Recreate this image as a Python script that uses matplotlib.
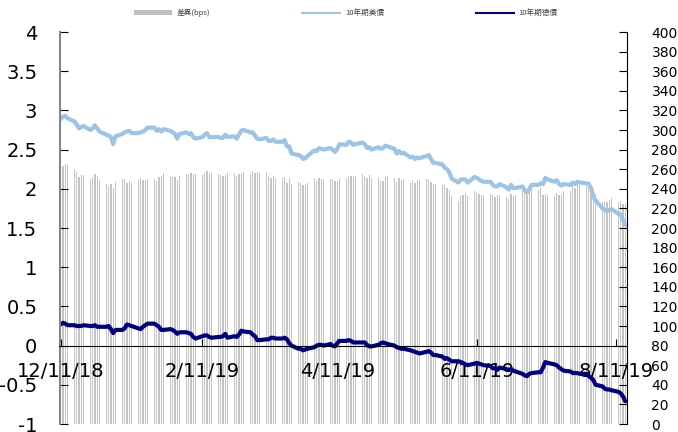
import numpy as np
import pandas as pd
import matplotlib
matplotlib.use('Agg')
import matplotlib.pyplot as plt
from matplotlib import font_manager
from matplotlib.patches import Patch
from matplotlib.lines import Line2D

# daily data (business days) from 12/11/18
start_date = '2018-12-11'

us10y = [
    2.89, 2.92, 2.93, 2.90, 2.86, 2.82, 2.77, 2.79, 2.80, 2.75, 2.77, 2.81, 2.77, 2.73, 2.69,
    2.68, 2.66, 2.57, 2.67, 2.70, 2.72, 2.73, 2.74, 2.71, 2.71, 2.72, 2.73, 2.75, 2.78, 2.78,
    2.74, 2.76, 2.73, 2.76, 2.74, 2.72, 2.70, 2.64,
    2.70, 2.72, 2.70, 2.71, 2.66, 2.64, 2.66, 2.69, 2.71, 2.66, 2.66, 2.66, 2.65, 2.65, 2.69,
    2.66, 2.67, 2.64, 2.69, 2.74,
    2.75, 2.72, 2.72, 2.68, 2.64, 2.63, 2.65, 2.61, 2.61, 2.63, 2.60, 2.60, 2.62, 2.54, 2.54,
    2.45, 2.43, 2.42, 2.38, 2.39, 2.42,
    2.49, 2.48, 2.52, 2.51, 2.50, 2.52, 2.50, 2.47, 2.51, 2.57, 2.56, 2.60, 2.59, 2.56, 2.57,
    2.59, 2.57, 2.52, 2.53, 2.50, 2.53, 2.51,
    2.52, 2.55, 2.54, 2.51, 2.45, 2.48, 2.45, 2.46, 2.40, 2.41, 2.38, 2.40, 2.39, 2.42, 2.43,
    2.38, 2.33, 2.33, 2.31, 2.27, 2.25, 2.21, 2.13,
    2.08, 2.12, 2.12, 2.12, 2.08, 2.15, 2.14, 2.12, 2.10, 2.09, 2.09, 2.05, 2.03, 2.03, 2.06,
    2.02, 1.99, 2.05, 2.01, 2.01,
    2.03, 1.98, 1.95, 2.00, 2.05, 2.05, 2.07, 2.06, 2.14, 2.12, 2.09, 2.11, 2.06, 2.04, 2.06,
    2.05, 2.08, 2.06, 2.09, 2.08, 2.07, 2.06, 2.01,
    1.90, 1.85, 1.75, 1.73, 1.71, 1.73, 1.74, 1.68, 1.67, 1.60, 1.54,
]

de10y = [
    0.27, 0.29, 0.28, 0.26, 0.26, 0.25, 0.25, 0.25, 0.26, 0.25, 0.25, 0.26, 0.24, 0.24, 0.24,
    0.25, 0.21, 0.16, 0.20, 0.20, 0.22, 0.27, 0.26, 0.25, 0.22, 0.21, 0.24, 0.26, 0.28, 0.28,
    0.26, 0.24, 0.20, 0.20, 0.21, 0.20, 0.18, 0.15,
    0.17, 0.17, 0.16, 0.15, 0.11, 0.09, 0.12, 0.13, 0.13, 0.11, 0.10, 0.11, 0.11, 0.12, 0.15,
    0.10, 0.12, 0.11, 0.14, 0.19,
    0.18, 0.17, 0.14, 0.12, 0.07, 0.07, 0.08, 0.08, 0.10, 0.10, 0.09, 0.09, 0.10, 0.08, 0.03,
    0.00, -0.04, -0.04, -0.06, -0.05, -0.04,
    -0.02, 0.00, 0.01, 0.01, 0.00, 0.02, 0.00, -0.01, 0.03, 0.06, 0.06, 0.07, 0.06, 0.04, 0.04,
    0.04, 0.04, 0.01, -0.01, -0.01, 0.01, 0.03,
    0.04, 0.03, 0.02, 0.00, -0.02, -0.03, -0.04, -0.04, -0.06, -0.07, -0.08, -0.09, -0.10, -0.08,
    -0.07, -0.09, -0.12, -0.12, -0.14, -0.17, -0.16, -0.18, -0.20,
    -0.20, -0.21, -0.22, -0.24, -0.25, -0.23, -0.22, -0.23, -0.24, -0.25, -0.26, -0.29, -0.29,
    -0.31, -0.28, -0.30, -0.31, -0.30, -0.32, -0.33,
    -0.36, -0.38, -0.39, -0.36, -0.35, -0.34, -0.34, -0.28, -0.21, -0.22, -0.24, -0.25, -0.28,
    -0.30, -0.32, -0.33, -0.35, -0.35, -0.35, -0.36, -0.36, -0.39, -0.41,
    -0.44, -0.50, -0.52, -0.55, -0.56, -0.56, -0.57, -0.59, -0.61, -0.65, -0.71,
]

tick_labels = ['12/11/18', '2/11/19', '4/11/19', '6/11/19', '8/11/19']
legend_labels = ['差異(bps)', '10年期美債', '10年期德債']

dates = pd.bdate_range(start_date, periods=len(us10y))
# 差異 = US minus German yield, in bps
spread = (np.array(us10y) - np.array(de10y)) * 100
tick_dates = pd.to_datetime(tick_labels, format='%m/%d/%y')

available = {f.name for f in font_manager.fontManager.ttflist}
if 'Liberation Sans Narrow' in available:
    num_font, big, small = 'Liberation Sans Narrow', 18, 13
else:
    num_font, big, small = 'DejaVu Sans', 14, 10

plt.rcParams['axes.unicode_minus'] = False
plt.rcParams['font.family'] = [num_font, 'DejaVu Sans']

fig = plt.figure(figsize=(6.78, 4.32), dpi=100)
ax = fig.add_axes([59.5 / 678, 8 / 432, 567 / 678, 392 / 432])
ax2 = ax.twinx()

ax2.bar(dates, spread, width=0.5, color='#c4c4c4', linewidth=0)
ax.plot(dates, us10y, color='#9dc3e6', lw=3, solid_capstyle='round')
ax.plot(dates, de10y, color='#000080', lw=3, solid_capstyle='round')
ax.set_zorder(ax2.get_zorder() + 1)
ax.patch.set_visible(False)

ax.set_xlim(pd.Timestamp('2018-12-10 12:00'), pd.Timestamp('2019-08-15 12:00'))
ax.set_ylim(-1, 4)
ax2.set_ylim(0, 400)

ax.set_yticks(np.arange(-1, 4.01, 0.5))
ax.set_yticklabels(['{:g}'.format(v) for v in np.arange(-1, 4.01, 0.5)])
ax2.set_yticks(np.arange(0, 401, 20))
ax.set_xticks(tick_dates)
ax.set_xticklabels(tick_labels)

ax.spines['top'].set_visible(False)
ax.spines['right'].set_visible(False)
ax.spines['bottom'].set_position(('data', 0))
ax.spines['bottom'].set_color('black')
ax.spines['left'].set_color('#868686')
ax.spines['left'].set_linewidth(1.5)
for s in ['top', 'left', 'bottom']:
    ax2.spines[s].set_visible(False)
ax2.spines['right'].set_color('black')

ax.tick_params(axis='y', direction='in', length=6, pad=16, labelsize=big)
ax.tick_params(axis='x', direction='in', length=5, pad=12, labelsize=big)
ax2.tick_params(axis='y', direction='in', length=6, pad=18, labelsize=small)

handles = [Patch(facecolor='#bfbfbf', edgecolor='none'),
           Line2D([], [], color='#9dc3e6', lw=1.5),
           Line2D([], [], color='#000080', lw=1.5)]
fig.legend(handles, legend_labels, loc='center', bbox_to_anchor=(0.51, 0.97), ncol=3,
           frameon=False, prop={'family': ['Noto Sans CJK TC', 'DejaVu Sans'], 'size': 5.5},
           handlelength=5, handleheight=0.6, columnspacing=12, handletextpad=0.6,
           labelcolor='#404040')

fig.savefig('out.png', dpi=100)
